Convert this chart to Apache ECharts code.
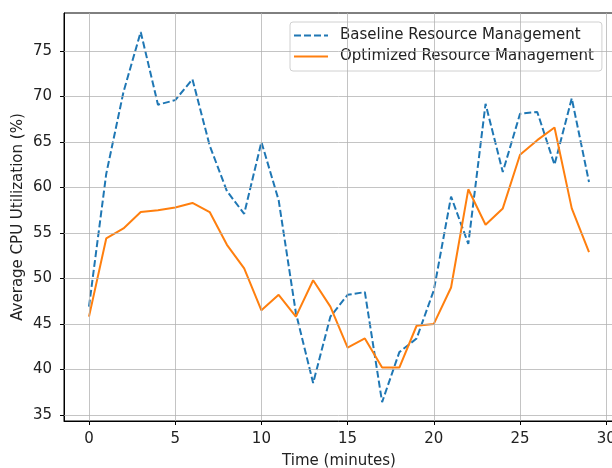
<!DOCTYPE html>
<html>
<head>
<meta charset="utf-8">
<script src="https://cdn.jsdelivr.net/npm/echarts@6/dist/echarts.min.js"></script>
<style>
html,body{margin:0;padding:0;background:#fff;}
#chart{width:612px;height:468px;}
</style>
</head>
<body>
<div id="chart"></div>
<script>
var times = [0,1,2,3,4,5,6,7,8,9,10,11,12,13,14,15,16,17,18,19,20,21,22,23,24,25,26,27,28,29];
var baseline = [46.9,61.5,70.5,77.1,69.1,69.6,71.9,64.6,59.6,57.1,65.0,58.6,46.2,38.5,45.8,48.2,48.5,36.4,41.9,43.4,48.7,59.0,53.8,69.2,61.7,68.1,68.3,62.5,69.8,60.6];
var optimized = [45.8,54.4,55.5,57.3,57.5,57.8,58.3,57.3,53.7,51.1,46.5,48.2,45.8,49.8,46.9,42.4,43.4,40.2,40.2,44.8,45.0,49.0,59.8,55.9,57.7,63.6,65.2,66.6,57.7,52.9];
var xTicks = [0,5,10,15,20,25,30];
var yTicks = [35,40,45,50,55,60,65,70,75];
var seriesNames = ['Baseline Resource Management','Optimized Resource Management'];

function pairs(xs, ys){ return xs.map(function(x,i){ return [x, ys[i]]; }); }

var font = 'DejaVu Sans';
var fs = 15;
var chart = echarts.init(document.getElementById('chart'), null, {renderer:'canvas'});
chart.setOption({
  animation:false,
  backgroundColor:'#fff',
  grid:{left:64, top:13, width:550, height:408, show:true, borderColor:'#000', borderWidth:1, backgroundColor:'transparent', containLabel:false, outerBoundsMode:'none'},
  xAxis:{
    type:'value', min:-1.45, max:30.45,
    name:'Time (minutes)', nameLocation:'middle', nameGap:33, nameMoveOverlap:false,
    nameTextStyle:{fontFamily:font, fontSize:fs, color:'#222'},
    axisLine:{show:true, onZero:false, lineStyle:{color:'#000', width:1}},
    axisTick:{show:true, length:4, customValues:xTicks, lineStyle:{color:'#000'}},
    axisLabel:{customValues:xTicks, margin:11, fontFamily:font, fontSize:fs, color:'#222', showMinLabel:true, showMaxLabel:true},
    splitLine:{show:false}
  },
  yAxis:{
    type:'value', min:34.33, max:79.18,
    name:'Average CPU Utilization (%)', nameLocation:'middle', nameGap:38, nameMoveOverlap:false,
    nameTextStyle:{fontFamily:font, fontSize:fs, color:'#222'},
    axisLine:{show:true, onZero:false, lineStyle:{color:'#000', width:1}},
    axisTick:{show:true, length:4, customValues:yTicks, lineStyle:{color:'#000'}},
    axisLabel:{customValues:yTicks, margin:12, fontFamily:font, fontSize:fs, color:'#222'},
    splitLine:{show:false}
  },
  legend:{
    orient:'vertical', left:290, top:22,
    backgroundColor:'rgba(255,255,255,0.85)', borderColor:'#d0d0d0', borderWidth:1, borderRadius:3,
    padding:[5,8,6,3], itemWidth:34, itemHeight:14, itemGap:4,
    itemStyle:{color:'transparent', borderWidth:0, opacity:0},
    textStyle:{fontFamily:font, fontSize:fs, lineHeight:17, color:'#222', padding:[0,0,0,7]},
    data:seriesNames
  },
  series:[
    {
      name:seriesNames[0], type:'line', data:pairs(times, baseline), showSymbol:false, symbol:'none',
      lineStyle:{color:'#1f77b4', width:2, type:[7,3]}, itemStyle:{color:'#1f77b4'}, z:3,
      markLine:{silent:true, symbol:'none', label:{show:false}, animation:false,
        lineStyle:{color:'#b0b0b0', width:1, type:'solid', opacity:0.75},
        data:xTicks.map(function(v){return {xAxis:v};}).concat(yTicks.map(function(v){return {yAxis:v};}))}
    },
    {
      name:seriesNames[1], type:'line', data:pairs(times, optimized), showSymbol:false, symbol:'none',
      lineStyle:{color:'#ff7f0e', width:2, type:'solid'}, itemStyle:{color:'#ff7f0e'}, z:4
    }
  ]
});
</script>
</body>
</html>
